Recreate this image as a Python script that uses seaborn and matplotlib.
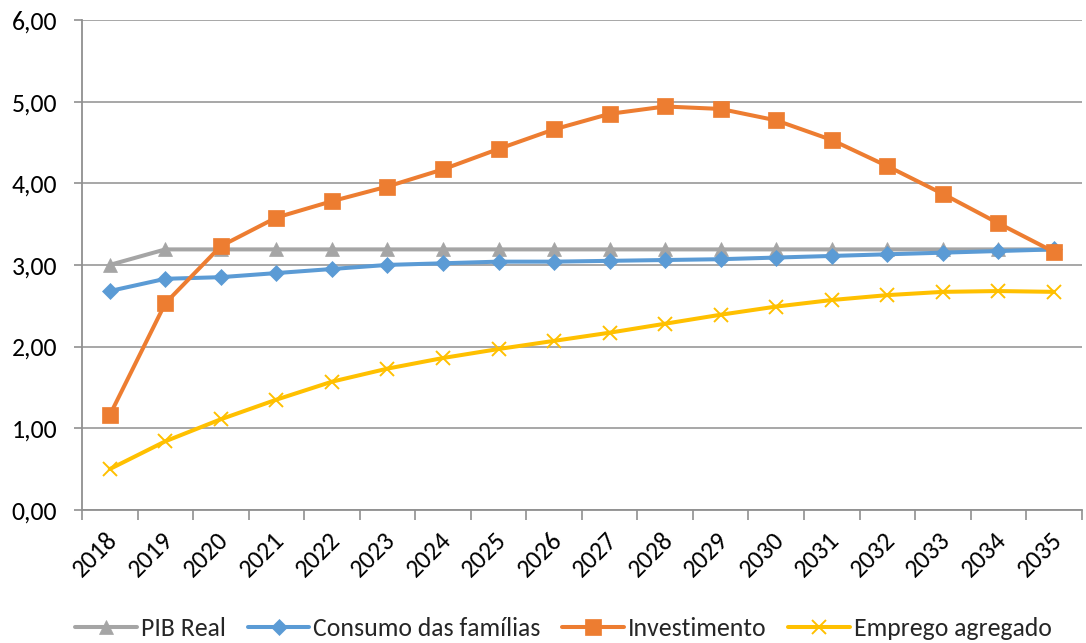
import matplotlib
matplotlib.use("Agg")
import matplotlib.pyplot as plt
import matplotlib.transforms as mtrans
from matplotlib.ticker import FuncFormatter, FixedLocator
import seaborn as sns
import pandas as pd

years = [str(y) for y in range(2018, 2036)]

pib_real = [3.00, 3.19, 3.19, 3.19, 3.19, 3.19, 3.19, 3.19, 3.19,
            3.19, 3.19, 3.19, 3.19, 3.19, 3.19, 3.19, 3.19, 3.19]
consumo = [2.68, 2.83, 2.85, 2.90, 2.95, 3.00, 3.02, 3.04, 3.04,
           3.05, 3.06, 3.07, 3.09, 3.11, 3.13, 3.15, 3.17, 3.19]
investimento = [1.16, 2.53, 3.23, 3.58, 3.78, 3.96, 4.17, 4.42, 4.66,
                4.85, 4.94, 4.91, 4.77, 4.53, 4.21, 3.87, 3.51, 3.16]
emprego = [0.50, 0.84, 1.11, 1.35, 1.57, 1.73, 1.86, 1.97, 2.07,
           2.17, 2.28, 2.39, 2.49, 2.57, 2.63, 2.67, 2.68, 2.67]

series_names = ["PIB Real", "Consumo das famílias", "Investimento", "Emprego agregado"]
series_values = [pib_real, consumo, investimento, emprego]
colors = ["#A5A5A5", "#5B9BD5", "#ED7D31", "#FFC000"]
markers = ["^", "D", "s", "x"]
msizes = [10, 8.5, 11, 10]

rows = []
for name, vals in zip(series_names, series_values):
    for i, v in enumerate(vals):
        rows.append({"idx": i, "valor": v, "serie": name})
df = pd.DataFrame(rows)

sns.set_theme(style="white")
plt.rcParams["font.family"] = ["Carlito", "Liberation Sans Narrow", "Open Sans", "DejaVu Sans"]

fig = plt.figure(figsize=(10.86, 6.43), dpi=100)
ax = fig.add_axes([0.0755, 0.207, 0.9205, 0.762])

for name, col, mk, ms in zip(series_names, colors, markers, msizes):
    sub = df[df["serie"] == name]
    sns.lineplot(data=sub, x="idx", y="valor", ax=ax, color=col, linewidth=2.9,
                 marker=mk, markersize=ms, markeredgecolor=col,
                 markeredgewidth=1.4 if mk == "x" else 0.5, label=name)

ax.set_xlim(-0.5, len(years) - 0.5)
ax.set_ylim(0, 6)
ax.set_yticks([0, 1, 2, 3, 4, 5, 6])
ax.yaxis.set_major_formatter(FuncFormatter(lambda v, p: f"{v:.2f}".replace(".", ",")))
ax.yaxis.grid(True, color="#A0A0A0", linewidth=1.3)
ax.set_axisbelow(True)

ax.set_xticks(range(len(years)))
ax.set_xticklabels(years, rotation=45, ha="right", rotation_mode="anchor")
ax.xaxis.set_minor_locator(FixedLocator([i - 0.5 for i in range(len(years) + 1)]))
ax.tick_params(axis="x", which="major", length=0, labelsize=18.5, pad=13, colors="black")
ax.tick_params(axis="x", which="minor", length=7, width=1.2, color="#909090", bottom=True)
ax.tick_params(axis="y", which="major", length=6, width=1.2, color="#909090",
               labelsize=18.5, pad=12, labelcolor="black", left=True)
offset = mtrans.ScaledTranslation(-3 / 72, 0, fig.dpi_scale_trans)
for lbl in ax.get_xticklabels():
    lbl.set_transform(lbl.get_transform() + offset)

ax.set_xlabel("")
ax.set_ylabel("")
for side in ["top", "right"]:
    ax.spines[side].set_visible(False)
for side in ["left", "bottom"]:
    ax.spines[side].set_color("#909090")
    ax.spines[side].set_linewidth(1.3)

handles, labels = ax.get_legend_handles_labels()
ax.get_legend().remove()
fig.legend(handles, labels, loc="center", bbox_to_anchor=(0.519, 0.022), ncol=4,
           frameon=False, fontsize=18.5, handlelength=2.4, columnspacing=0.85,
           handletextpad=0.15)

fig.savefig("out.png", dpi=100)
